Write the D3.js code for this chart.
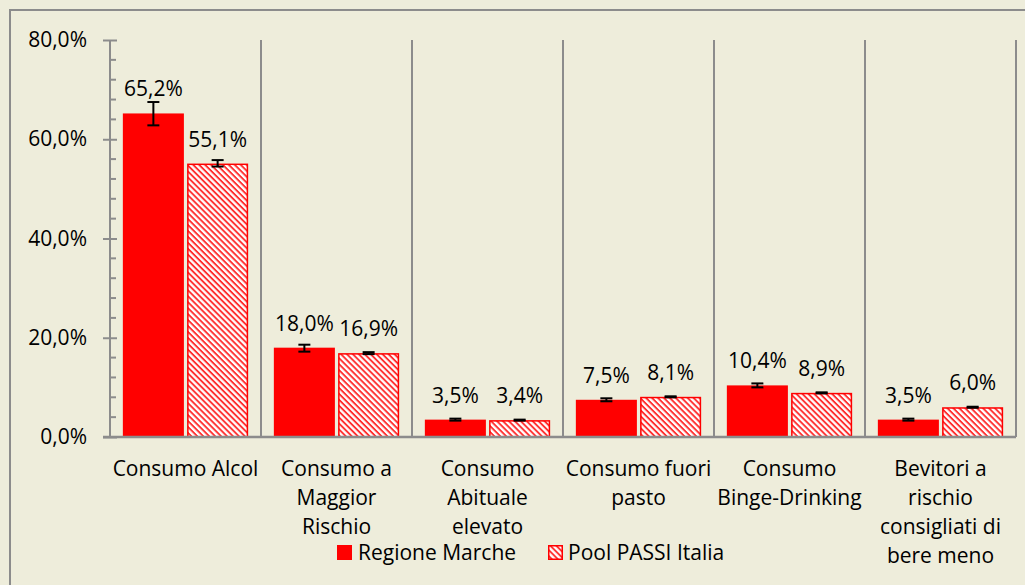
<!DOCTYPE html>
<html><head><meta charset="utf-8">
<script src="https://cdn.jsdelivr.net/npm/d3@7"></script>
<style>
html,body{margin:0;padding:0;background:#EEEDDB;}
svg{display:block;}
text{font-family:"Open Sans",sans-serif;fill:#000;}
</style></head>
<body>
<script>
const categories = [
  ["Consumo Alcol"],
  ["Consumo a","Maggior","Rischio"],
  ["Consumo","Abituale","elevato"],
  ["Consumo fuori","pasto"],
  ["Consumo","Binge-Drinking"],
  ["Bevitori a","rischio","consigliati di","bere meno"]
];
const seriesNames = ["Regione Marche","Pool PASSI Italia"];
const marche = [65.2, 18.0, 3.5, 7.5, 10.4, 3.5];
const pool = [55.1, 16.9, 3.4, 8.1, 8.9, 6.0];
const marcheLow = [62.8, 17.2, 3.3, 7.2, 10.0, 3.3];
const marcheHigh = [67.5, 18.6, 3.7, 7.8, 10.8, 3.7];
const poolLow = [54.5, 16.7, 3.3, 8.0, 8.8, 5.9];
const poolHigh = [55.8, 17.1, 3.5, 8.2, 9.0, 6.1];
const yTicks = [0, 20, 40, 60, 80];

(function(){
const W = 1025, H = 585, FS = 21;
const svg = d3.select("body").append("svg").attr("width", W).attr("height", H);
const defs = svg.append("defs");
const pat = defs.append("pattern").attr("id","hatch").attr("patternUnits","userSpaceOnUse")
  .attr("width",4.2).attr("height",4.2).attr("patternTransform","rotate(45)");
pat.append("rect").attr("width",4.2).attr("height",4.2).attr("fill","#fff");
pat.append("rect").attr("x",0).attr("y",0).attr("width",4.2).attr("height",1.9).attr("fill","#FF3030");

// frame
svg.append("rect").attr("x",10).attr("y",10).attr("width",1030).attr("height",600)
  .attr("fill","#EEEDDB").attr("stroke","#8C8C8C").attr("stroke-width",2);

const pL = 110, pR = 1016, pT = 40, pB = 437;
const fmt = v => d3.format(".1f")(v).replace(".", ",") + "%";
const x0 = d3.scaleBand().domain(d3.range(categories.length)).range([pL, pR]).paddingInner(0).paddingOuter(0);
const x1 = d3.scaleBand().domain([0,1]).range([0, x0.bandwidth()]).paddingInner(0.05).paddingOuter(0.2);
const y = d3.scaleLinear().domain([0, 80]).range([pB, pT]);

// separators
svg.append("g").selectAll("line").data(d3.range(1, categories.length + 1)).join("line")
  .attr("x1", i => i < categories.length ? x0(i) : pR).attr("x2", i => i < categories.length ? x0(i) : pR)
  .attr("y1", pT).attr("y2", pB).attr("stroke","#8C8C8C").attr("stroke-width",2);

// y axis
const yAxis = d3.axisLeft(y).tickValues(yTicks).tickFormat(fmt).tickSize(7).tickPadding(16);
const ya = svg.append("g").attr("transform",`translate(${pL},0)`).call(yAxis);
ya.attr("font-family",null).attr("font-size",null);
ya.select(".domain").attr("stroke","#8C8C8C").attr("stroke-width",2).attr("d",`M0,${pT}V${pB}`);
ya.selectAll(".tick line").attr("stroke","#8C8C8C").attr("stroke-width",2).attr("x1",7);
ya.selectAll(".tick text").attr("font-size",FS).attr("fill","#000");
// minor ticks
svg.append("g").selectAll("line").data(d3.range(0, 81, 4).filter(v => v % 20 !== 0)).join("line")
  .attr("x1", pL).attr("x2", pL + 6).attr("y1", d => y(d)).attr("y2", d => y(d))
  .attr("stroke","#8C8C8C").attr("stroke-width",2);

const data = [];
categories.forEach((c, i) => {
  data.push({i, s:0, v:marche[i], lo:marcheLow[i], hi:marcheHigh[i]});
  data.push({i, s:1, v:pool[i], lo:poolLow[i], hi:poolHigh[i]});
});

svg.append("g").selectAll("rect").data(data).join("rect")
  .attr("x", d => x0(d.i) + x1(d.s) + (d.s ? 0.75 : 0))
  .attr("y", d => y(d.v) + (d.s ? 0.75 : 0))
  .attr("width", d => x1.bandwidth() - (d.s ? 1.5 : 0))
  .attr("height", d => y(0) - y(d.v) - (d.s ? 0.75 : 0))
  .attr("fill", d => d.s ? "url(#hatch)" : "#FF0000")
  .attr("stroke", d => d.s ? "#FF0000" : "none").attr("stroke-width", 1.5);

// x axis line
svg.append("line").attr("x1", pL - 7).attr("x2", pR).attr("y1", pB).attr("y2", pB)
  .attr("stroke","#8C8C8C").attr("stroke-width",2.5);

// error bars
const eb = svg.append("g").attr("stroke","#000").attr("stroke-width",2);
data.forEach(d => {
  const cx = x0(d.i) + x1(d.s) + x1.bandwidth()/2;
  eb.append("line").attr("x1",cx).attr("x2",cx).attr("y1",y(d.lo)).attr("y2",y(d.hi));
  eb.append("line").attr("x1",cx-6).attr("x2",cx+6).attr("y1",y(d.lo)).attr("y2",y(d.lo));
  eb.append("line").attr("x1",cx-6).attr("x2",cx+6).attr("y1",y(d.hi)).attr("y2",y(d.hi));
});

// data labels
svg.append("g").selectAll("text").data(data).join("text")
  .attr("x", d => x0(d.i) + x1(d.s) + x1.bandwidth()/2)
  .attr("y", d => y(d.v) - 17)
  .attr("text-anchor","middle").attr("font-size",FS)
  .text(d => fmt(d.v));

// category labels
const cl = svg.append("g");
categories.forEach((lines, i) => {
  const cx = x0(i) + x0.bandwidth()/2;
  const t = cl.append("text").attr("text-anchor","middle").attr("font-size",FS).attr("x", cx).attr("y", 476);
  lines.forEach((ln, k) => t.append("tspan").attr("x", cx).attr("dy", k ? 29 : 0).text(ln));
});

// legend
const lg = svg.append("g");
lg.append("rect").attr("x",337).attr("y",545).attr("width",15).attr("height",15).attr("fill","#FF0000");
lg.append("text").attr("x",358).attr("y",560).attr("font-size",FS).text(seriesNames[0]);
lg.append("rect").attr("x",548.75).attr("y",545.75).attr("width",13.5).attr("height",13.5)
  .attr("fill","url(#hatch)").attr("stroke","#FF0000").attr("stroke-width",1.5);
lg.append("text").attr("x",568).attr("y",560).attr("font-size",FS).text(seriesNames[1]);
})();
</script>
</body></html>
